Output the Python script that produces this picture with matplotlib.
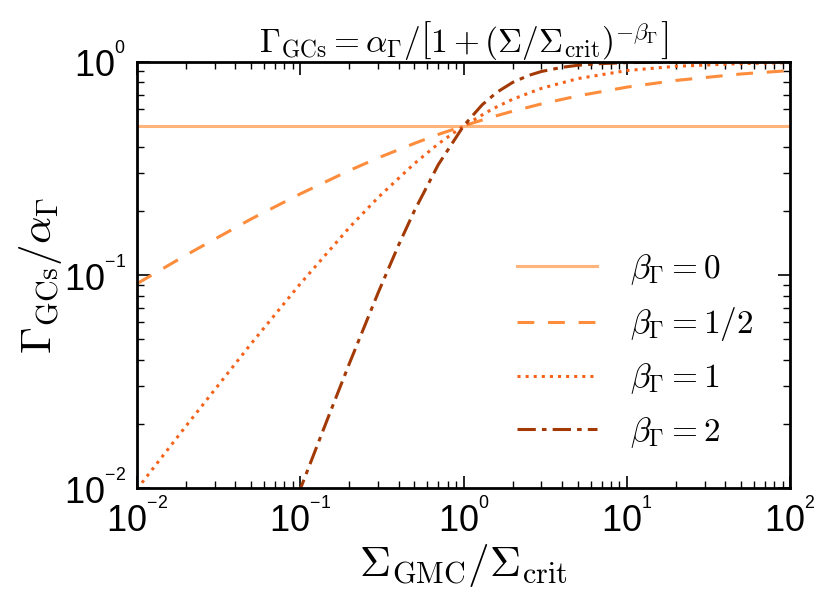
import matplotlib
matplotlib.use('Agg')
import numpy as np
from matplotlib import pyplot as plt
from matplotlib.ticker import FuncFormatter, LogLocator

# 数据（从图上读取的点）
x_b0 = [1e-2, 1e2]
y_b0 = [0.5, 0.5]

x_b05 = [0.01, 0.02, 0.05, 0.1, 0.2, 0.3, 0.5, 0.7, 1.0, 1.5, 2.0, 3.0, 5.0, 10.0, 20.0, 50.0, 100.0]
y_b05 = [0.091, 0.124, 0.183, 0.240, 0.309, 0.354, 0.414, 0.456, 0.500, 0.551, 0.586, 0.634, 0.691, 0.760, 0.817, 0.876, 0.909]

x_b1 = [0.01, 0.02, 0.05, 0.1, 0.2, 0.3, 0.5, 0.7, 1.0, 1.5, 2.0, 3.0, 5.0, 10.0, 20.0, 50.0, 100.0]
y_b1 = [0.0099, 0.0196, 0.0476, 0.0909, 0.167, 0.231, 0.333, 0.412, 0.500, 0.600, 0.667, 0.750, 0.833, 0.909, 0.952, 0.980, 0.990]

x_b2 = [0.08, 0.1, 0.15, 0.2, 0.3, 0.4, 0.5, 0.7, 1.0, 1.3, 1.6, 2.0, 2.5, 3.0, 4.0, 5.0, 7.0, 10.0, 20.0, 50.0, 100.0]
y_b2 = [0.0064, 0.0099, 0.0220, 0.0385, 0.0826, 0.138, 0.200, 0.329, 0.500, 0.628, 0.719, 0.800, 0.862, 0.900, 0.941, 0.962, 0.980, 0.990, 0.9975, 0.9996, 0.9999]

labels = [r'$\beta_\Gamma=0$', r'$\beta_\Gamma=1/2$', r'$\beta_\Gamma=1$', r'$\beta_\Gamma=2$']
colors = ['#ffb47c', '#fd8d3c', '#f4631c', '#a33a06']

plt.rcParams['font.family'] = ['Liberation Sans', 'DejaVu Sans']
plt.rcParams['mathtext.fontset'] = 'cm'

fig = plt.figure(figsize=(8.3, 6.05), dpi=100)
ax = fig.add_axes([0.165, 0.193, 0.787, 0.705])

ax.plot(x_b0, y_b0, '-', color=colors[0], lw=2.2, label=labels[0])
ax.plot(x_b05, y_b05, color=colors[1], lw=2.2, dashes=(5.5, 4.5), label=labels[1])
ax.plot(x_b1, y_b1, ':', color=colors[2], lw=2.2, label=labels[2])
ax.plot(x_b2, y_b2, color=colors[3], lw=2.2, dashes=(6, 2, 1.5, 2), label=labels[3])

ax.set_xscale('log')
ax.set_yscale('log')
ax.set_xlim(1e-2, 1e2)
ax.set_ylim(1e-2, 1e0)

# 10 的幂，指数小一号
fmt = FuncFormatter(lambda v, p: r'$\mathregular{10^{{}^{%d}}}$' % int(round(np.log10(v))))
ax.xaxis.set_major_formatter(fmt)
ax.yaxis.set_major_formatter(fmt)
ax.xaxis.set_major_locator(LogLocator(base=10, numticks=10))
ax.yaxis.set_major_locator(LogLocator(base=10, numticks=10))

ax.tick_params(which='both', direction='in', top=True, right=True, labelsize=26)
ax.tick_params(which='major', length=9, width=1.2)
ax.tick_params(which='minor', length=5, width=1)
ax.tick_params(axis='x', which='major', pad=8)
ax.tick_params(axis='y', which='major', pad=8)
for s in ax.spines.values():
    s.set_linewidth(2)

ax.set_xlabel(r'$\Sigma_{\rm GMC}/\Sigma_{\rm crit}$', fontsize=31, labelpad=1)
ax.set_ylabel(r'$\Gamma_{\rm GCs}/\alpha_\Gamma$', fontsize=31, labelpad=0)
ax.set_title(r'$\Gamma_{\rm GCs} = \alpha_\Gamma / \left[1 + \left(\Sigma/\Sigma_{\rm crit}\right)^{-\beta_\Gamma}\right]$',
             fontsize=24, pad=7)

ax.legend(loc='lower right', frameon=False, fontsize=24, handlelength=2.4, handletextpad=1.0,
          labelspacing=0.55, bbox_to_anchor=(0.99, 0.02))

fig.savefig('out.png', dpi=100)
